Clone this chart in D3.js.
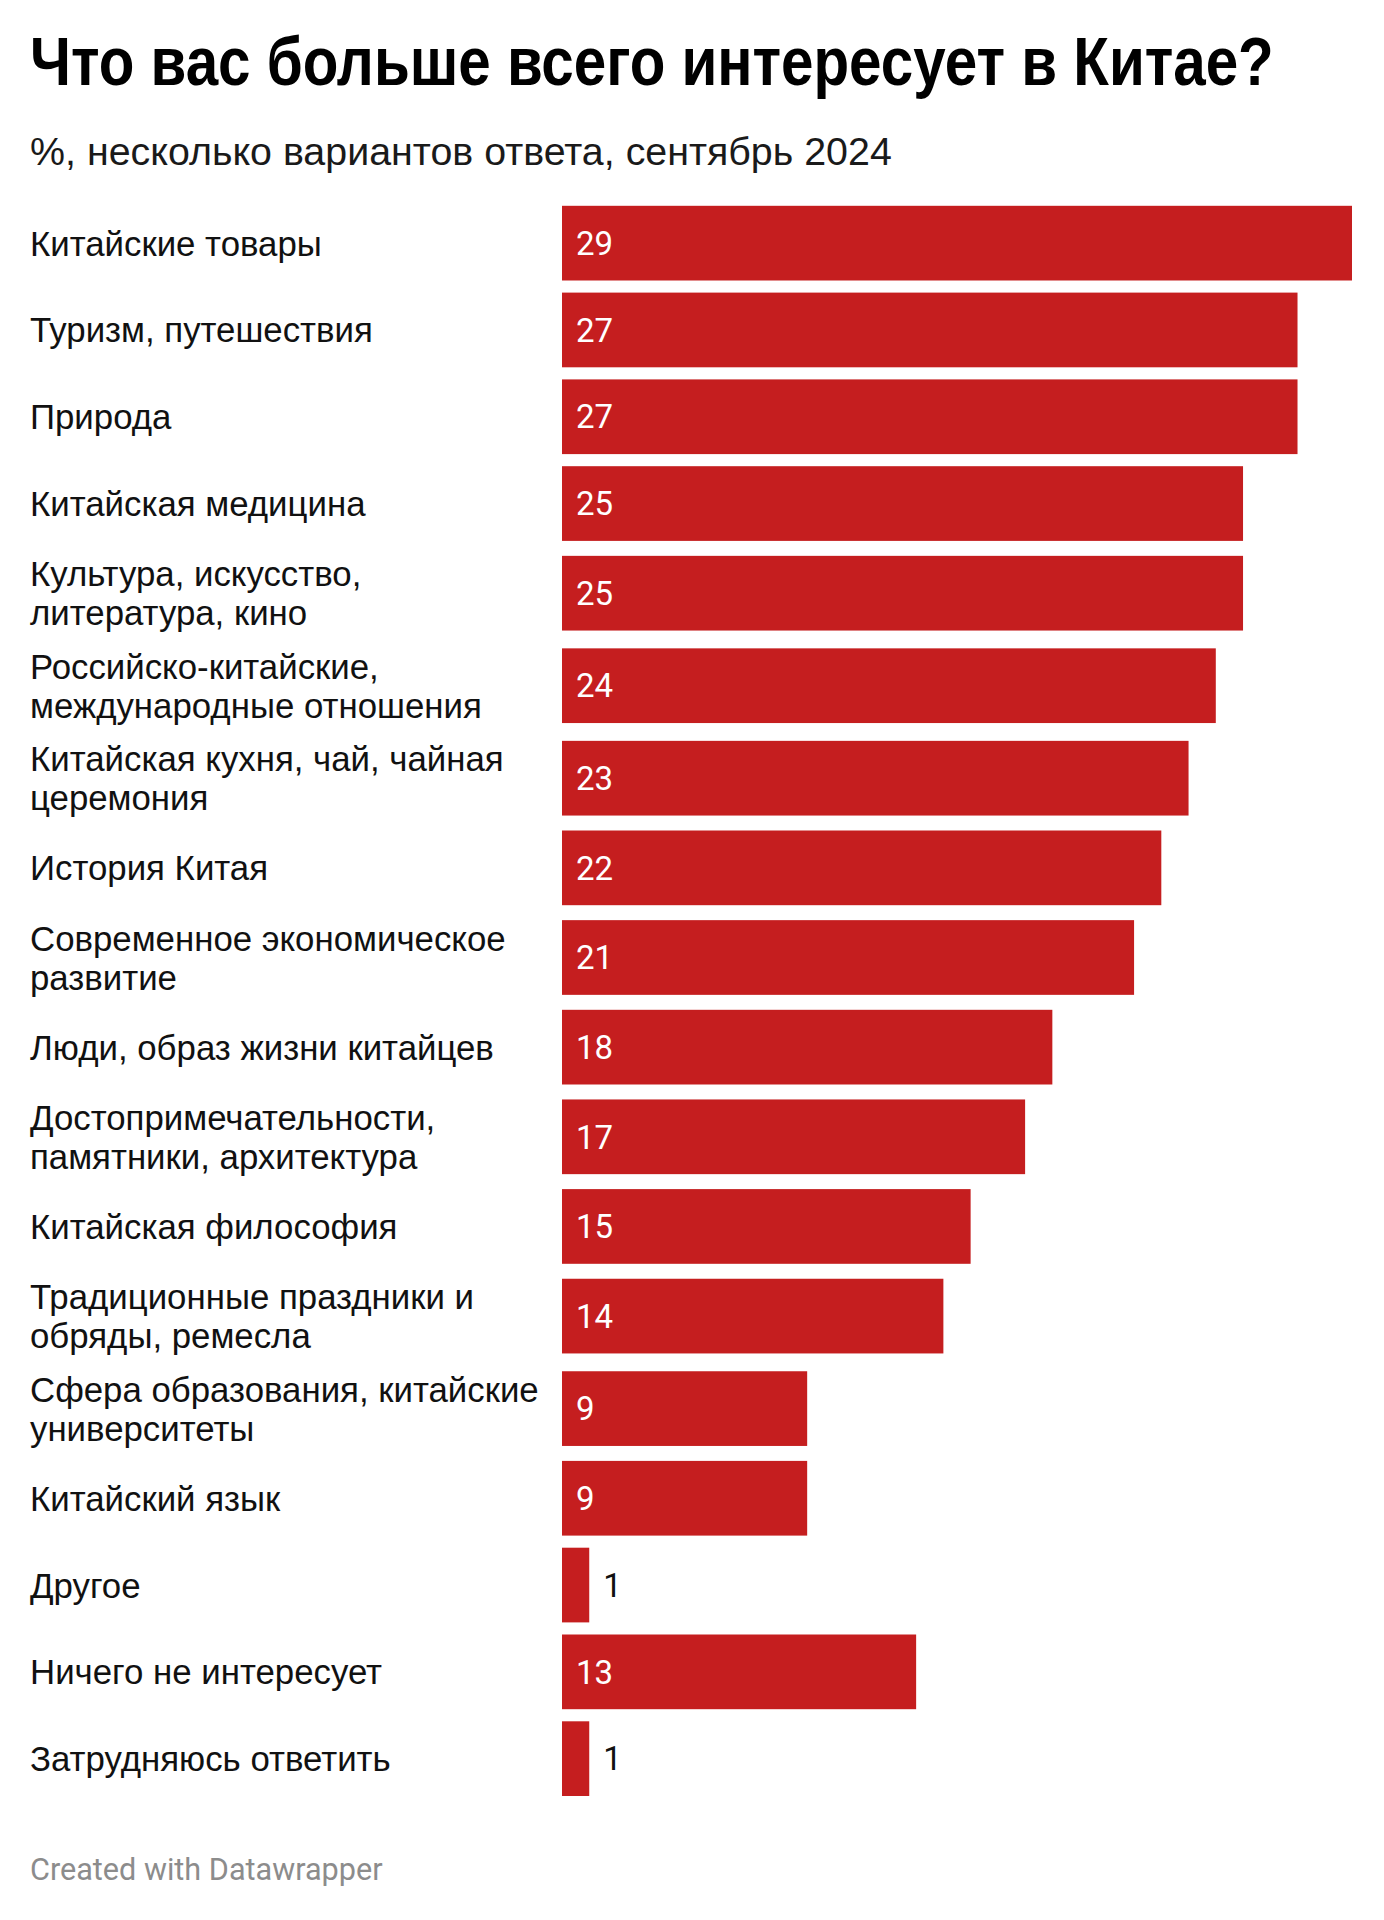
<!DOCTYPE html>
<html>
<head>
<meta charset="utf-8">
<script src="https://cdn.jsdelivr.net/npm/d3@7"></script>
<style>
  body { margin: 0; background: #fff; }
  svg { display: block; }
</style>
</head>
<body>
<script>
// Chart size
var width = 1384,
    height = 1920;

// Row labels (line breaks as in the original)
var categories = [
    "Китайские товары",
    "Туризм, путешествия",
    "Природа",
    "Китайская медицина",
    "Культура, искусство,\nлитература, кино",
    "Российско-китайские,\nмеждународные отношения",
    "Китайская кухня, чай, чайная\nцеремония",
    "История Китая",
    "Современное экономическое\nразвитие",
    "Люди, образ жизни китайцев",
    "Достопримечательности,\nпамятники, архитектура",
    "Китайская философия",
    "Традиционные праздники и\nобряды, ремесла",
    "Сфера образования, китайские\nуниверситеты",
    "Китайский язык",
    "Другое",
    "Ничего не интересует",
    "Затрудняюсь ответить"
];

// Share of respondents, %
var values = [29, 27, 27, 25, 25, 24, 23, 22, 21, 18, 17, 15, 14, 9, 9, 1, 13, 1];

var title = "Что вас больше всего интересует в Китае?";
var subtitle = "%, несколько вариантов ответа, сентябрь 2024";
var footer = "Created with Datawrapper";

var rows = categories.map(function(c, i) {
    return {label: c, lines: c.split("\n"), value: values[i]};
});

// Two-line rows are a bit taller than one-line rows
var rowH1 = 86.8, rowH2 = 92.5, barH = 74.7;
var top0 = 205.8 - (rowH1 - barH) / 2;
var acc = 0;
rows.forEach(function(d) {
    d.h = d.lines.length > 1 ? rowH2 : rowH1;
    d.start = acc;
    acc += d.h;
});

var y = d3.scaleLinear()
    .domain([0, acc])
    .range([top0, top0 + acc]);

var x = d3.scaleLinear()
    .domain([0, 29])
    .range([562, 1352]);

var svg = d3.select("body").append("svg")
    .attr("width", width)
    .attr("height", height);

// Title: condensed bold, squeezed horizontally to the original width
var titleText = svg.append("text")
    .attr("font-family", "Liberation Sans, Arial, sans-serif")
    .attr("font-weight", "bold")
    .attr("font-size", 68)
    .attr("fill", "#000")
    .text(title);
var titleScale = 1244 / titleText.node().getComputedTextLength();
titleText.attr("transform", "translate(30,85) scale(" + titleScale + ",1)");

// Subtitle
var subText = svg.append("text")
    .attr("font-family", "Liberation Sans, Arial, sans-serif")
    .attr("font-size", 38)
    .attr("fill", "#1a1a1a")
    .text(subtitle);
var subScale = 862 / subText.node().getComputedTextLength();
subText.attr("transform", "translate(30,165) scale(" + subScale + ",1)");

var row = svg.append("g")
    .selectAll("g")
    .data(rows)
    .enter()
    .append("g")
    .attr("transform", function(d) {
        return "translate(0," + (y(d.start) + d.h / 2) + ")";
    });

// Bars
row.append("rect")
    .attr("x", x(0))
    .attr("y", -barH / 2)
    .attr("width", function(d) { return x(d.value) - x(0); })
    .attr("height", barH)
    .attr("fill", "#c51e1f");

// Category labels
var labelSize = 34.8, lineGap = 39;
row.append("text")
    .attr("font-family", "Liberation Sans, Arial, sans-serif")
    .attr("font-size", labelSize)
    .attr("fill", "#111")
    .selectAll("tspan")
    .data(function(d) {
        return d.lines.map(function(l, i) {
            return {text: l, dy: (i - (d.lines.length - 1) / 2) * lineGap};
        });
    })
    .enter()
    .append("tspan")
    .attr("x", 30)
    .attr("y", function(d) { return d.dy + labelSize * 0.36; })
    .text(function(d) { return d.text; });

// Value labels: inside the bar, or just after it when the bar is too short
var valueSize = 33;
row.append("text")
    .attr("font-family", "Roboto, sans-serif")
    .attr("font-size", valueSize)
    .attr("y", valueSize * 0.355)
    .attr("x", function(d) { return d.value > 2 ? x(0) + 14 : x(d.value) + 14; })
    .attr("fill", function(d) { return d.value > 2 ? "#fff" : "#111"; })
    .text(function(d) { return d.value; });

// Footer
svg.append("text")
    .attr("x", 30)
    .attr("y", 1880)
    .attr("font-family", "Roboto, sans-serif")
    .attr("font-size", 30.6)
    .attr("fill", "#8c8c8c")
    .text(footer);
</script>
</body>
</html>
